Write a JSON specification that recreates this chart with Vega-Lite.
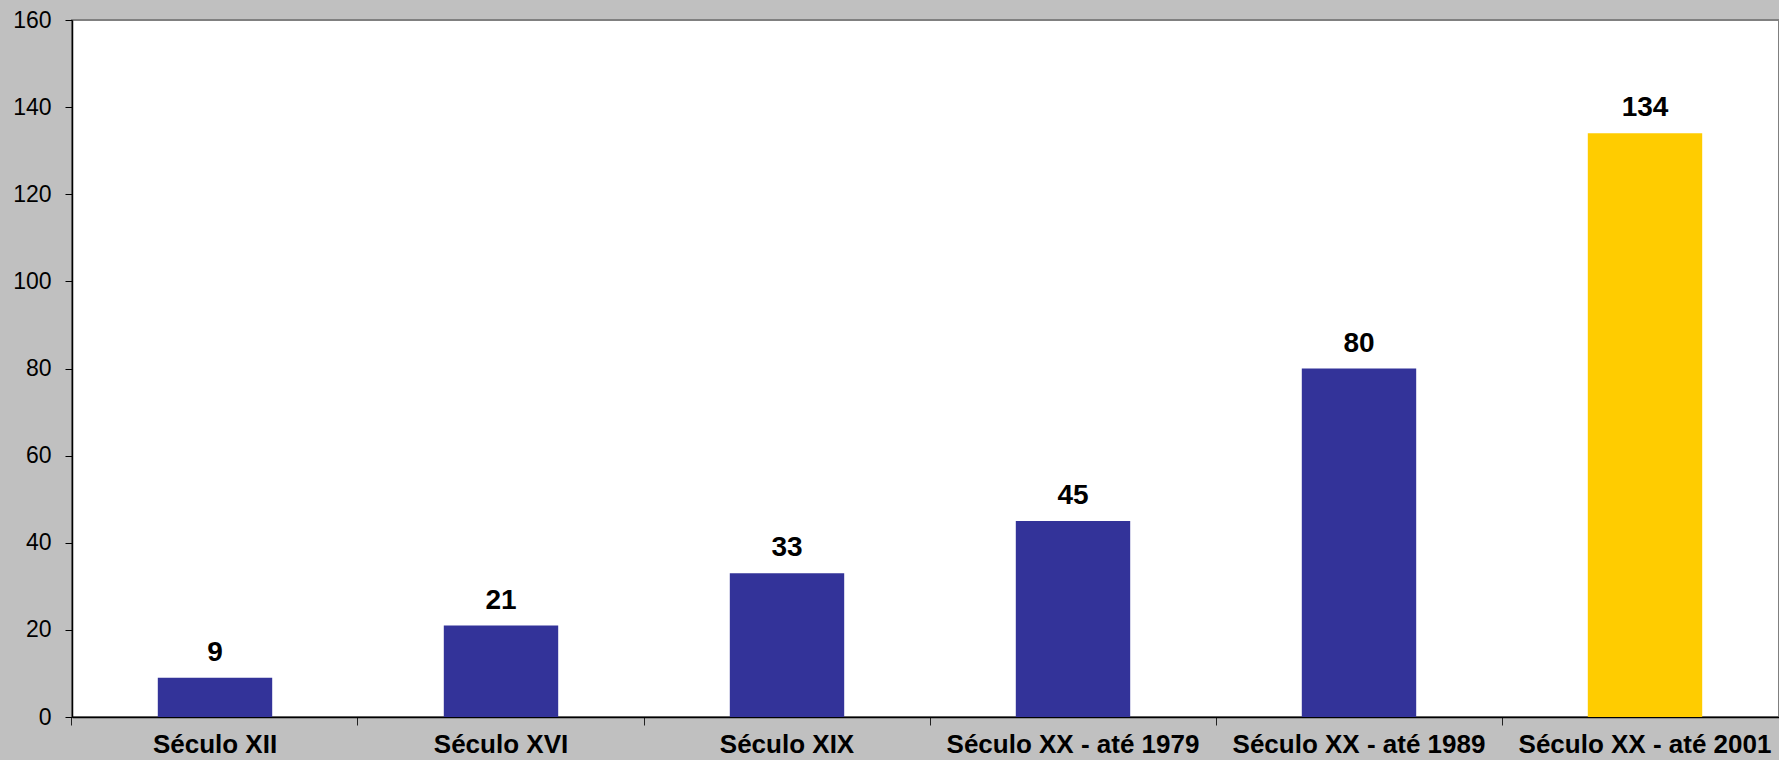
{
  "$schema": "https://vega.github.io/schema/vega-lite/v6.json",
  "autosize": "none",
  "width": 1707,
  "height": 697,
  "padding": {"left": 72, "top": 20, "right": 0, "bottom": 43},
  "background": "#C0C0C0",
  "config": {
    "font": "Liberation Sans",
    "view": {"fill": "white", "stroke": "#808080", "strokeWidth": 2}
  },
  "data": {
    "values": [
      {"periodo": "Século XII", "valor": 9},
      {"periodo": "Século XVI", "valor": 21},
      {"periodo": "Século XIX", "valor": 33},
      {"periodo": "Século XX - até 1979", "valor": 45},
      {"periodo": "Século XX - até 1989", "valor": 80},
      {"periodo": "Século XX - até 2001", "valor": 134}
    ]
  },
  "encoding": {
    "x": {
      "field": "periodo",
      "type": "nominal",
      "sort": null,
      "scale": {"range": [0, 1716], "paddingInner": 0.6, "paddingOuter": 0.3},
      "axis": {
        "title": null,
        "labelAngle": 0,
        "labelFontSize": 26,
        "labelFontWeight": "bold",
        "labelColor": "black",
        "labelBaseline": "alphabetic",
        "labelPadding": 27,
        "labelLimit": 0,
        "labelOverlap": false,
        "labelFlush": false,
        "ticks": true,
        "bandPosition": -0.75,
        "tickSize": 8,
        "tickWidth": 1,
        "tickColor": "#222222",
        "tickOpacity": 1,
        "domainColor": "black",
        "domainWidth": 1.5,
        "grid": false
      }
    },
    "y": {
      "field": "valor",
      "type": "quantitative",
      "scale": {"domain": [0, 160], "nice": false, "zero": true},
      "axis": {
        "title": null,
        "values": [0, 20, 40, 60, 80, 100, 120, 140, 160],
        "labelFontSize": 23,
        "labelColor": "black",
        "labelPadding": 14,
        "tickSize": 7,
        "tickColor": "black",
        "domainColor": "black",
        "domainWidth": 1.5,
        "grid": false
      }
    }
  },
  "layer": [
    {
      "mark": {"type": "bar"},
      "encoding": {
        "color": {
          "condition": {"test": "datum.periodo === 'Século XX - até 2001'", "value": "#FFCC00"},
          "value": "#333399"
        }
      }
    },
    {
      "mark": {"type": "text", "baseline": "alphabetic", "dy": -17, "fontSize": 28, "fontWeight": "bold", "color": "black"},
      "encoding": {"text": {"field": "valor", "type": "quantitative"}}
    }
  ]
}
